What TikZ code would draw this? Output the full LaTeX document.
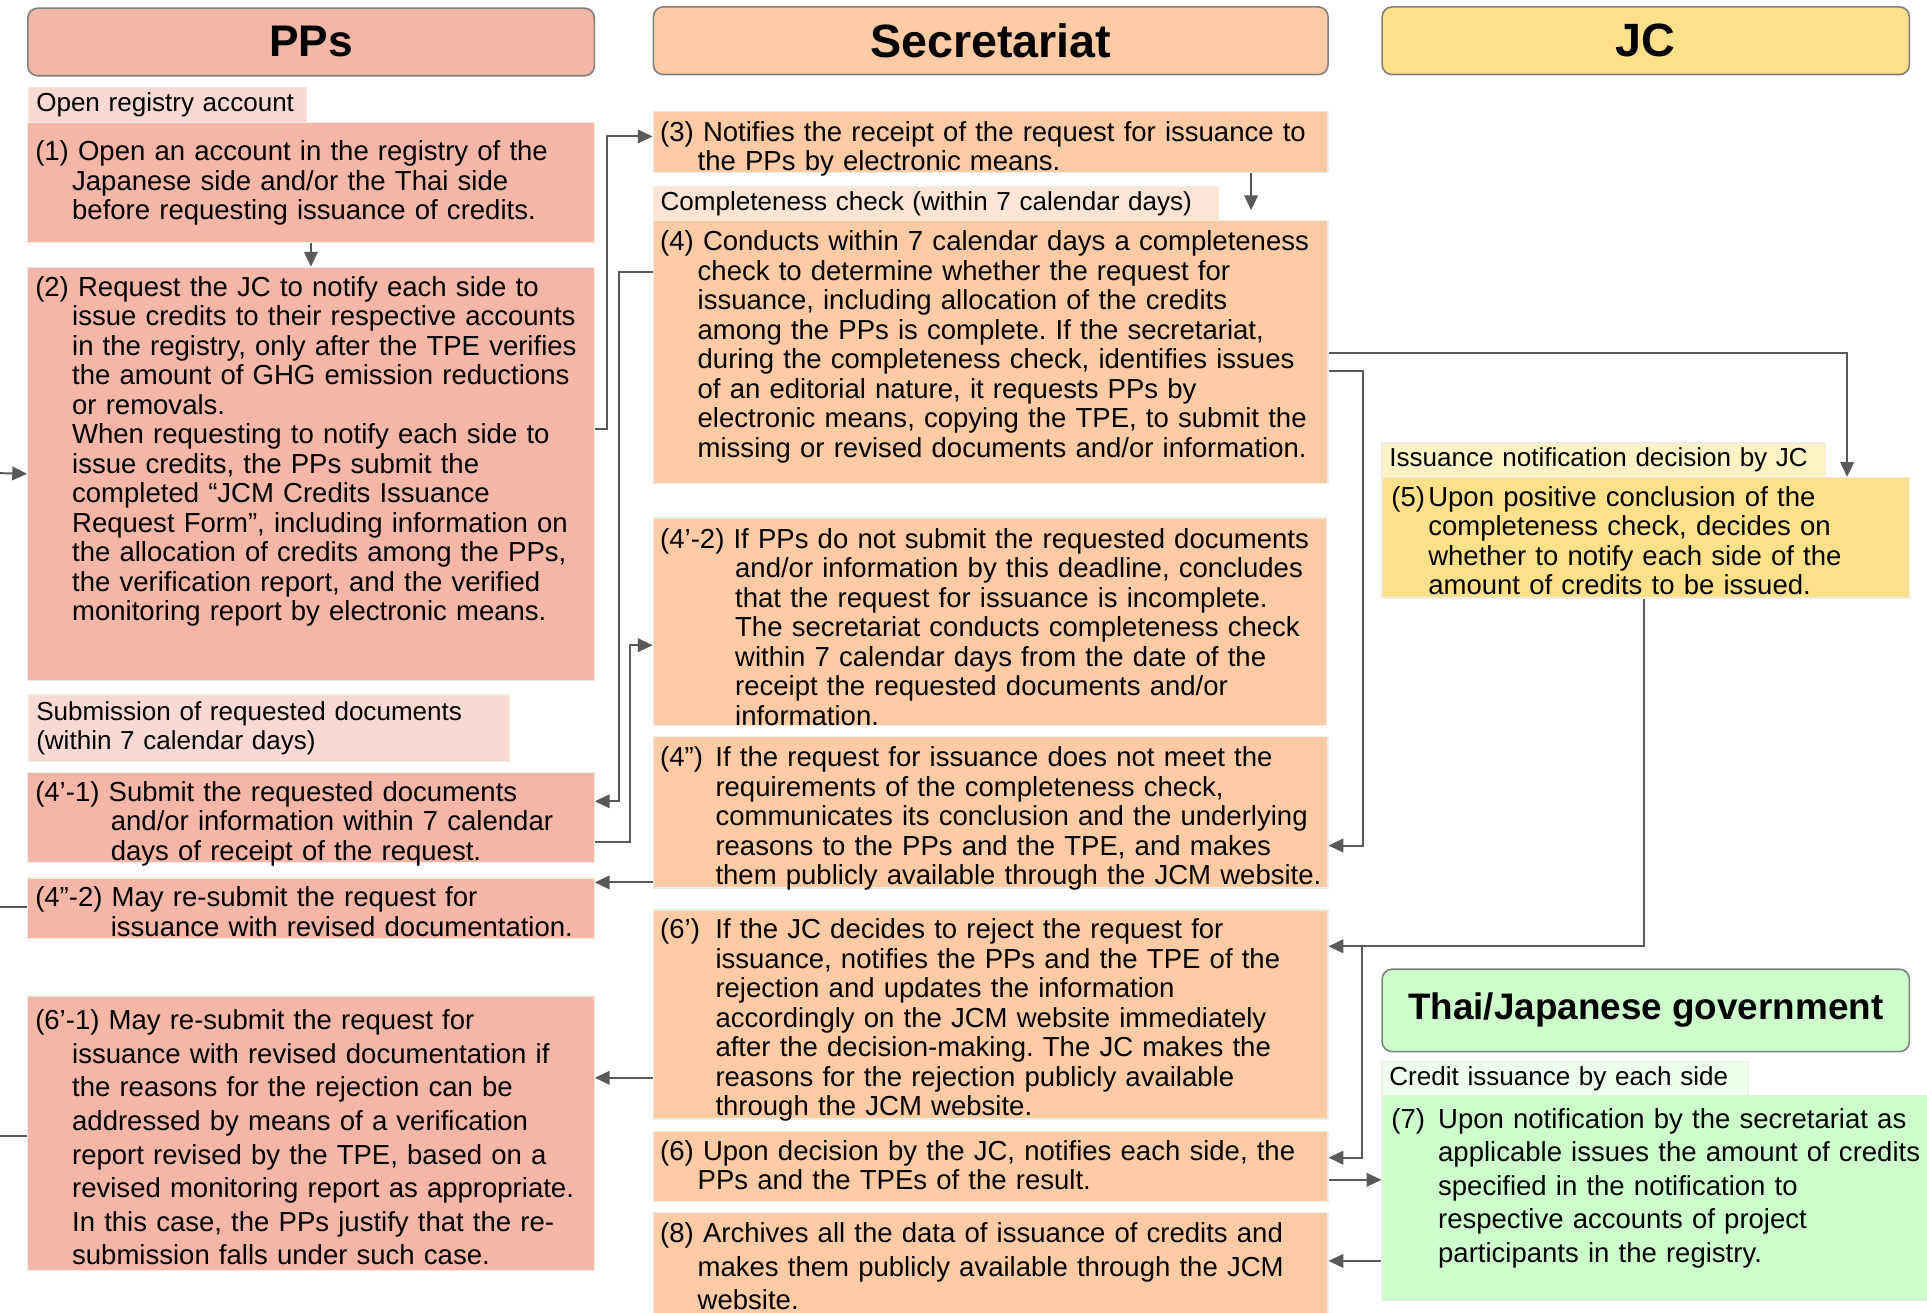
\documentclass[tikz,border=0pt]{standalone}
\usepackage{fontspec}
\setmainfont{Liberation Sans}
\usetikzlibrary{arrows.meta}
\definecolor{ppfill}{HTML}{F4B6A6}
\definecolor{pplab}{HTML}{F8DAD3}
\definecolor{sefill}{HTML}{FFCBA4}
\definecolor{selab}{HTML}{FDE5D5}
\definecolor{jcfill}{HTML}{FFE08A}
\definecolor{jclab}{HTML}{FFF2C4}
\definecolor{gvfill}{HTML}{CCFFCC}
\definecolor{gvlab}{HTML}{EEFFEE}
\definecolor{rim}{HTML}{EDEDE2}
\definecolor{hdrrim}{HTML}{7F7F7F}
\definecolor{lnk}{HTML}{595959}
\frenchspacing
\newcommand{\stepind}[2]{\hangindent=#1pt\hangafter=1\noindent#2\par}
\newcommand{\nl}{\newline}
\tikzset{%
    sz/.style 2 args={minimum width=#1pt, minimum height=#2pt},
    box/.style={anchor=north west, inner sep=0pt, draw=rim, line width=1pt},
    hdr/.style={anchor=north west, inner sep=0pt, rounded corners=8pt, draw=hdrrim, line width=1.3pt, font=\bfseries\fontsize{38}{40}\selectfont},
    lab/.style={box, inner xsep=6pt, align=left, font=\fontsize{21.2}{24}\selectfont},
    txt/.style={anchor=base west, inner sep=0pt, text width=600pt, font=\fontsize{22.4}{24}\selectfont},
    txtw/.style={txt, font=\fontsize{22.4}{27.3}\selectfont},
    arr/.style={draw=lnk, line width=1.6pt, -{Triangle[length=12pt, width=11pt]}},
    lin/.style={draw=lnk, line width=1.6pt},
}
\begin{document}
\begin{tikzpicture}[x=1pt, y=-1pt]
    \fill[white] (0,0) rectangle (1568,1068);
    \useasboundingbox (0,0) rectangle (1568,1068);
    % PPs
    \node[hdr, fill=ppfill, sz={461}{55}, font=\bfseries\fontsize{36}{40}\selectfont] (hpp) at (22,6) {PPs};
    \node[lab, fill=pplab, text width=214pt, minimum height=28pt] (lp1) at (23,71) {Open registry account};
    \node[box, fill=ppfill, sz={461}{98}] (p1) at (22,99) {};
    \node[txt] (p1t) at (28.5,131) {\stepind{30}{(1) Open an account in the registry of the\nl Japanese side and/or the Thai side\nl before requesting issuance of credits.}};
    \node[box, fill=ppfill, sz={461}{336}] (p2) at (22,217) {};
    \node[txt] (p2t) at (28.5,241) {\stepind{30}{(2) Request the JC to notify each side to\nl issue credits to their respective accounts\nl in the registry, only after the TPE verifies\nl the amount of GHG emission reductions\nl or removals.\nl When requesting to notify each side to\nl issue credits, the PPs submit the\nl completed “JCM Credits Issuance\nl Request Form”, including information on\nl the allocation of credits among the PPs,\nl the verification report, and the verified\nl monitoring report by electronic means.}};
    \node[lab, fill=pplab, text width=379pt, minimum height=54pt] (lp2) at (23,565) {Submission of requested documents\\(within 7 calendar days)};
    \node[box, fill=ppfill, sz={461}{73}] (p41) at (22,628) {};
    \node[txt] (p41t) at (28.5,652) {\stepind{61.5}{(4’-1) Submit the requested documents\nl and/or information within 7 calendar\nl days of receipt of the request.}};
    \node[box, fill=ppfill, sz={461}{49}] (p42) at (22,714) {};
    \node[txt] (p42t) at (28.5,738) {\stepind{61.5}{(4”-2) May re-submit the request for\nl issuance with revised documentation.}};
    \node[box, fill=ppfill, sz={461}{223}] (p61) at (22,810) {};
    \node[txtw] (p61t) at (28.5,838) {\stepind{30}{(6’-1) May re-submit the request for\nl issuance with revised documentation if\nl the reasons for the rejection can be\nl addressed by means of a verification\nl report revised by the TPE, based on a\nl revised monitoring report as appropriate.\nl In this case, the PPs justify that the re-\nl submission falls under such case.}};
    % Secretariat
    \node[hdr, fill=sefill, sz={549}{55}] (hse) at (531,5) {Secretariat};
    \node[box, fill=sefill, sz={549}{50}] (s3) at (531,90) {};
    \node[txt] (s3t) at (537,115) {\stepind{30.5}{(3) Notifies the receipt of the request for issuance to\nl the PPs by electronic means.}};
    \node[lab, fill=selab, text width=448pt, minimum height=28pt] (ls4) at (531,151) {Completeness check (within 7 calendar days)};
    \node[box, fill=sefill, sz={549}{214}] (s4) at (531,179) {};
    \node[txt] (s4t) at (537,204) {\stepind{30.5}{(4) Conducts within 7 calendar days a completeness\nl check to determine whether the request for\nl issuance, including allocation of the credits\nl among the PPs is complete. If the secretariat,\nl during the completeness check, identifies issues\nl of an editorial nature, it requests PPs by\nl electronic means, copying the TPE, to submit the\nl missing or revised documents and/or information.}};
    \node[box, fill=sefill, sz={548}{169}] (s42) at (531,421) {};
    \node[txt] (s42t) at (537,446) {\stepind{61}{(4’-2) If PPs do not submit the requested documents\nl and/or information by this deadline, concludes\nl that the request for issuance is incomplete.\nl The secretariat conducts completeness check\nl within 7 calendar days from the date of the\nl receipt the requested documents and/or\nl information.}};
    \node[box, fill=sefill, sz={549}{123}] (s4b) at (531,599) {};
    \node[txt] (s4bt) at (537,624) {\stepind{45}{\makebox[45pt][l]{(4”)}If the request for issuance does not meet the\nl requirements of the completeness check,\nl communicates its conclusion and the underlying\nl reasons to the PPs and the TPE, and makes\nl them publicly available through the JCM website.}};
    \node[box, fill=sefill, sz={549}{170}] (s6p) at (531,740) {};
    \node[txt] (s6pt) at (537,764) {\stepind{45}{\makebox[45pt][l]{(6’)}If the JC decides to reject the request for\nl issuance, notifies the PPs and the TPE of the\nl rejection and updates the information\nl accordingly on the JCM website immediately\nl after the decision-making. The JC makes the\nl reasons for the rejection publicly available\nl through the JCM website.}};
    \node[box, fill=sefill, sz={549}{57}] (s6) at (531,920) {};
    \node[txt] (s6t) at (537,944) {\stepind{30.5}{(6) Upon decision by the JC, notifies each side, the\nl PPs and the TPEs of the result.}};
    \node[box, fill=sefill, sz={549}{92}] (s8) at (531,986) {};
    \node[txtw] (s8t) at (537,1011) {\stepind{30.5}{(8) Archives all the data of issuance of credits and\nl makes them publicly available through the JCM\nl website.}};
    % JC and government
    \node[hdr, fill=jcfill, sz={429}{55}] (hjc) at (1124,5) {JC};
    \node[lab, fill=jclab, text width=349pt, minimum height=28pt] (lj5) at (1124,360) {Issuance notification decision by JC};
    \node[box, fill=jcfill, sz={429}{98}] (j5) at (1124,388) {};
    \node[txt] (j5t) at (1132,412) {\stepind{30}{\makebox[30pt][l]{(5)}Upon positive conclusion of the\nl completeness check, decides on\nl whether to notify each side of the\nl amount of credits to be issued.}};
    \node[hdr, fill=gvfill, sz={429}{67}, font=\bfseries\fontsize{30}{34}\selectfont] (hgv) at (1124,788) {Thai/Japanese government};
    \node[lab, fill=gvlab, text width=286pt, minimum height=28pt] (lg7) at (1124,863) {Credit issuance by each side};
    \node[box, fill=gvfill, sz={455}{167}] (g7) at (1124,891) {};
    \node[txtw] (g7t) at (1132,918) {\stepind{38}{\makebox[38pt][l]{(7)}Upon notification by the secretariat as\nl applicable issues the amount of credits\nl specified in the notification to\nl respective accounts of project\nl participants in the registry.}};
    % links
    \coordinate (in2) at (0,385);
    \coordinate (out42) at (0,738);
    \coordinate (out61) at (0,924);
    \coordinate (jn) at (1108,770);
    \draw[arr] (in2) -- (p2.west);
    \draw[lin] (p42.west |- out42) -- (out42);
    \draw[lin] (p61.west |- out61) -- (out61);
    \draw[arr] (p1.south) -- (p2.north);
    \draw[arr] (p2.east |- 0,349) -- ++(10,0) |- (s3.west |- 0,111);
    \draw[arr, shorten >=8pt] (s3.south -| 1018,0) -- (s4.north -| 1018,0);
    \draw[arr] (s4.west |- 0,221) -- ++(-27,0) |- (p41.east |- 0,652);
    \draw[arr] (p41.east |- 0,685) -- ++(29,0) |- (s42.west |- 0,525);
    \draw[arr] (s4.east |- 0,287) -| (j5.north -| 1503,0);
    \draw[arr] (s4.east |- 0,302) -- ++(28,0) |- (s4b.east |- 0,688);
    \draw[arr] (s4b.west |- 0,718) -- (p42.east |- 0,718);
    \draw[arr] (j5.south -| 1338,0) |- (s6p.east |- jn);
    \draw[arr] (jn) |- (s6.east |- 0,942);
    \draw[arr] (s6p.west |- 0,877) -- (p61.east |- 0,877);
    \draw[arr] (s6.east |- 0,960) -- (g7.west |- 0,960);
    \draw[arr] (g7.west |- 0,1026) -- (s8.east |- 0,1026);
\end{tikzpicture}
\end{document}
